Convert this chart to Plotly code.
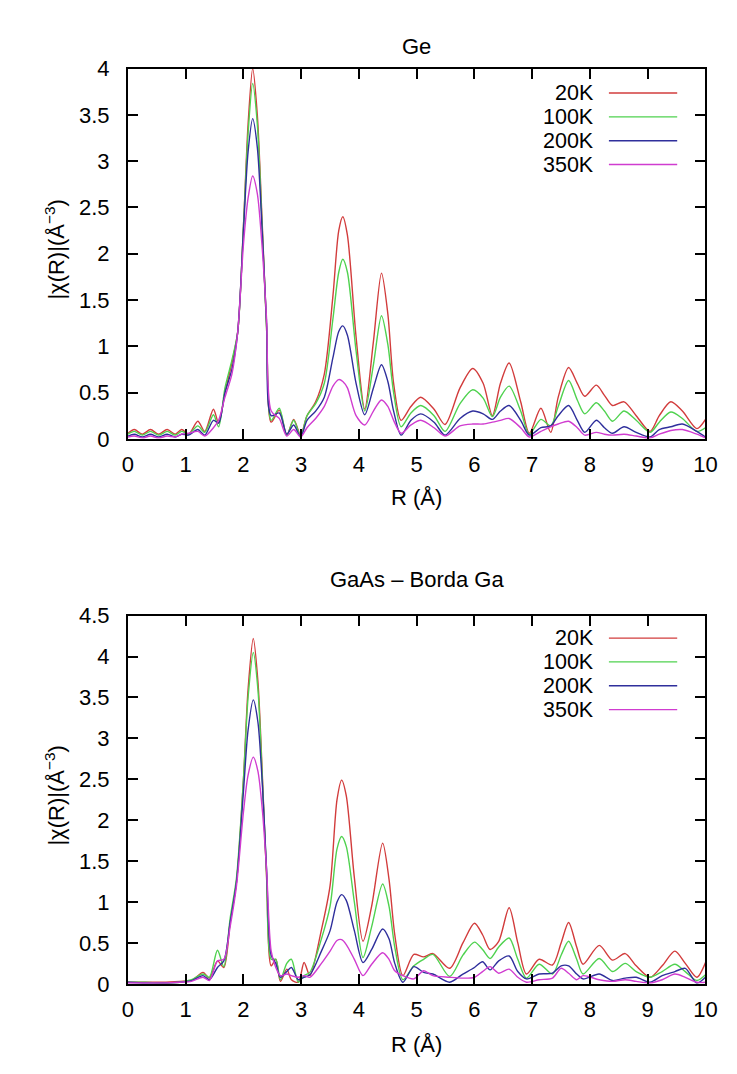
import plotly.graph_objects as go

W, H = 737, 1074

# ---------------- Ge ----------------
r_ge = [0.0, 0.11, 0.25, 0.39, 0.53, 0.68, 0.82, 0.93, 1.05, 1.21, 1.33, 1.48, 1.57, 1.68,
        1.8, 1.9, 2.0, 2.08, 2.16, 2.24, 2.32, 2.4, 2.48, 2.62, 2.75, 2.87, 2.99, 3.1, 3.25,
        3.4, 3.55, 3.65, 3.72, 3.8, 3.95, 4.1, 4.25, 4.39, 4.5, 4.6, 4.73, 4.9, 5.07, 5.3,
        5.49, 5.75, 5.97, 6.15, 6.31, 6.45, 6.6, 6.8, 6.95, 7.15, 7.32, 7.45, 7.63, 7.78,
        7.91, 8.11, 8.25, 8.39, 8.59, 8.8, 9.04, 9.2, 9.4, 9.6, 9.85, 10.0]

ge_20k = [0.06, 0.10, 0.05, 0.10, 0.05, 0.10, 0.05, 0.10, 0.05, 0.19, 0.08, 0.32, 0.17, 0.50,
          0.82, 1.15, 2.3, 3.4, 4.0, 3.5, 2.4, 1.2, 0.18, 0.31, 0.04, 0.21, 0.04, 0.25, 0.40,
          0.7, 1.55, 2.25, 2.4, 2.2, 1.1, 0.32, 1.05, 1.79, 1.35, 0.6, 0.20, 0.35, 0.45, 0.32,
          0.155, 0.55, 0.76, 0.6, 0.25, 0.6, 0.82, 0.4, 0.06, 0.33, 0.07, 0.45, 0.77, 0.6,
          0.46, 0.58, 0.47, 0.36, 0.40, 0.25, 0.08, 0.25, 0.40, 0.30, 0.11, 0.21]

ge_100k = [0.05, 0.08, 0.04, 0.08, 0.04, 0.08, 0.04, 0.08, 0.05, 0.14, 0.07, 0.26, 0.13, 0.55,
           0.85, 1.15, 2.3, 3.3, 3.84, 3.4, 2.35, 1.2, 0.2, 0.33, 0.04, 0.2, 0.03, 0.25, 0.38,
           0.6, 1.3, 1.8, 1.94, 1.8, 0.95, 0.30, 0.8, 1.33, 1.02, 0.5, 0.13, 0.28, 0.36, 0.25,
           0.08, 0.38, 0.53, 0.44, 0.24, 0.45, 0.57, 0.3, 0.05, 0.21, 0.14, 0.35, 0.63, 0.42,
           0.27, 0.39, 0.3, 0.19, 0.3, 0.2, 0.07, 0.18, 0.29, 0.22, 0.08, 0.12]

ge_200k = [0.03, 0.05, 0.02, 0.05, 0.02, 0.05, 0.02, 0.05, 0.04, 0.10, 0.04, 0.20, 0.17, 0.5,
           0.75, 1.15, 2.25, 3.1, 3.46, 3.15, 2.3, 1.25, 0.25, 0.28, 0.05, 0.15, 0.02, 0.2, 0.3,
           0.45, 0.88, 1.16, 1.22, 1.12, 0.6, 0.26, 0.55, 0.80, 0.62, 0.3, 0.04, 0.2, 0.27, 0.18,
           0.04, 0.22, 0.30, 0.27, 0.21, 0.3, 0.36, 0.2, 0.04, 0.12, 0.14, 0.25, 0.36, 0.2,
           0.07, 0.20, 0.12, 0.06, 0.13, 0.07, 0.02, 0.1, 0.13, 0.16, 0.08, 0.02]

ge_350k = [0.02, 0.03, 0.01, 0.03, 0.01, 0.03, 0.02, 0.05, 0.06, 0.08, 0.03, 0.12, 0.2, 0.45,
           0.7, 1.15, 2.1, 2.6, 2.84, 2.65, 2.1, 1.3, 0.3, 0.22, 0.03, 0.1, 0.02, 0.12, 0.22,
           0.35, 0.57, 0.64, 0.62, 0.55, 0.25, 0.15, 0.3, 0.42, 0.35, 0.2, 0.06, 0.15, 0.20, 0.12,
           0.03, 0.14, 0.16, 0.16, 0.18, 0.2, 0.22, 0.12, 0.02, 0.08, 0.13, 0.16, 0.19, 0.12,
           0.04, 0.07, 0.05, 0.04, 0.05, 0.03, 0.01, 0.05, 0.09, 0.1, 0.05, 0.01]

# ---------------- GaAs, Ga edge ----------------
r_gaas = [0.0, 0.3, 0.6, 0.9, 1.1, 1.3, 1.41, 1.55, 1.66, 1.77, 1.88, 2.0, 2.08, 2.17, 2.25,
          2.33, 2.4, 2.48, 2.56, 2.64, 2.75, 2.83, 2.95, 3.05, 3.15, 3.35, 3.5, 3.62, 3.7,
          3.78, 3.92, 4.07, 4.22, 4.41, 4.52, 4.62, 4.76, 4.95, 5.12, 5.28, 5.57, 5.8, 6.0,
          6.14, 6.27, 6.42, 6.6, 6.75, 6.9, 7.12, 7.35, 7.5, 7.63, 7.77, 7.88, 8.16, 8.39,
          8.61, 8.8, 9.04, 9.25, 9.47, 9.65, 9.85, 10.0]

gaas_20k = [0.02, 0.02, 0.02, 0.03, 0.04, 0.14, 0.07, 0.28, 0.2, 0.75, 1.25, 2.5, 3.6, 4.22, 3.7,
            2.5, 1.3, 0.22, 0.3, 0.03, 0.18, 0.05, 0.02, 0.26, 0.1, 0.66, 1.2, 2.25, 2.49,
            2.3, 1.3, 0.52, 0.95, 1.72, 1.28, 0.6, 0.10, 0.36, 0.33, 0.37, 0.19, 0.5, 0.74,
            0.6, 0.42, 0.52, 0.93, 0.5, 0.12, 0.30, 0.23, 0.5, 0.75, 0.45, 0.24, 0.47, 0.29,
            0.37, 0.22, 0.08, 0.22, 0.40, 0.25, 0.08, 0.26]

gaas_100k = [0.02, 0.02, 0.01, 0.02, 0.05, 0.12, 0.08, 0.41, 0.21, 0.8, 1.3, 2.5, 3.5, 4.05, 3.6,
             2.45, 1.35, 0.3, 0.3, 0.05, 0.25, 0.3, 0.02, 0.1, 0.14, 0.55, 0.95, 1.65, 1.80,
             1.68, 1.0, 0.32, 0.7, 1.22, 0.95, 0.45, 0.05, 0.22, 0.3, 0.36, 0.09, 0.35, 0.51,
             0.42, 0.31, 0.45, 0.56, 0.3, 0.07, 0.24, 0.12, 0.35, 0.52, 0.3, 0.12, 0.31, 0.15,
             0.25, 0.15, 0.08, 0.15, 0.24, 0.15, 0.04, 0.11]

gaas_200k = [0.02, 0.01, 0.01, 0.02, 0.04, 0.10, 0.05, 0.2, 0.28, 0.75, 1.25, 2.35, 3.1, 3.47, 3.2,
             2.4, 1.4, 0.35, 0.25, 0.08, 0.15, 0.2, 0.05, 0.08, 0.11, 0.4, 0.65, 1.0, 1.09,
             1.02, 0.65, 0.26, 0.42, 0.67, 0.55, 0.25, 0.02, 0.21, 0.14, 0.12, 0.02, 0.12, 0.2,
             0.27, 0.17, 0.28, 0.34, 0.15, 0.06, 0.12, 0.13, 0.22, 0.22, 0.12, 0.06, 0.12, 0.04,
             0.07, 0.08, 0.02, 0.1, 0.15, 0.19, 0.01, 0.08]

gaas_350k = [0.01, 0.01, 0.01, 0.02, 0.03, 0.08, 0.04, 0.28, 0.3, 0.7, 1.2, 2.1, 2.55, 2.77, 2.6,
             2.1, 1.4, 0.4, 0.2, 0.1, 0.12, 0.1, 0.08, 0.1, 0.08, 0.25, 0.4, 0.53, 0.54,
             0.48, 0.3, 0.10, 0.24, 0.38, 0.3, 0.16, 0.1, 0.06, 0.16, 0.1, 0.08, 0.07, 0.08,
             0.15, 0.21, 0.13, 0.18, 0.08, 0.02, 0.05, 0.07, 0.19, 0.13, 0.05, 0.1, 0.05, 0.03,
             0.05, 0.03, 0.01, 0.05, 0.12, 0.08, 0.02, 0.02]

series_names = ["20K", "100K", "200K", "350K"]
colors = ["#d23c3c", "#4fd24f", "#2f2f9c", "#d03cd0"]

# pixel geometry of each panel (frame top/bottom, title and x-label centres, key rows)
panels = [
    dict(title="Ge", r=r_ge, ys=[ge_20k, ge_100k, ge_200k, ge_350k],
         ymax=4.0, top=58, bottom=437, title_y=35, xlabel_y=497, key_y=83),
    dict(title="GaAs \u2013 Borda Ga", r=r_gaas, ys=[gaas_20k, gaas_100k, gaas_200k, gaas_350k],
         ymax=4.5, top=618, bottom=995, title_y=581, xlabel_y=1057, key_y=641),
]

LEFT, RIGHT = 125, 717
FONT = "Liberation Sans, Arial, Helvetica, sans-serif"
FS = 22
KEY_FS = 21.5


def px(x):
    return x / W


def py(y):
    return 1 - y / H


fig = go.Figure()
annotations = []
shapes = []

for i, p in enumerate(panels):
    n = "" if i == 0 else str(i + 1)
    xa, ya = "x" + n, "y" + n
    for name, col, vals in zip(series_names, colors, p["ys"]):
        fig.add_trace(go.Scatter(
            x=p["r"], y=vals, mode="lines", name=name, showlegend=False,
            line=dict(color=col, width=1.4, shape="spline", smoothing=0.8),
            xaxis=xa, yaxis=ya))

    axis_common = dict(showline=True, linecolor="black", linewidth=2, mirror="ticks",
                       ticks="inside", ticklen=10, tickwidth=1.5, tickcolor="black",
                       showgrid=False, zeroline=False, ticklabeloverflow="allow",
                       tickfont=dict(family=FONT, size=FS, color="black"))
    fig.update_layout(**{
        "xaxis" + n: dict(domain=[px(LEFT), px(RIGHT)], range=[0, 10], dtick=1, tick0=0,
                          anchor=ya, ticklabelstandoff=5, **axis_common),
        "yaxis" + n: dict(domain=[py(p["bottom"]), py(p["top"])], range=[0, p["ymax"]],
                          dtick=0.5, tick0=0, anchor=xa, ticklabelstandoff=12,
                          tickformat="~g", **axis_common),
    })

    # panel title
    annotations.append(dict(text=p["title"], x=px((LEFT + RIGHT) / 2), y=py(p["title_y"]),
                            xref="paper", yref="paper", xanchor="center", yanchor="middle",
                            showarrow=False, font=dict(family=FONT, size=FS, color="black")))
    # x-axis title
    annotations.append(dict(text="R (\u00c5)", x=px((LEFT + RIGHT) / 2), y=py(p["xlabel_y"]),
                            xref="paper", yref="paper", xanchor="center", yanchor="middle",
                            showarrow=False, font=dict(family=FONT, size=FS, color="black")))
    # y-axis title
    annotations.append(dict(text="|\u03c7(R)|(\u00c5<sup>\u22123</sup>)", x=px(50),
                            y=py((p["top"] + p["bottom"]) / 2 - 4), xref="paper", yref="paper",
                            xanchor="center", yanchor="middle",
                            showarrow=False, textangle=-90,
                            font=dict(family=FONT, size=FS, color="black")))

    # key: label text right-aligned, sample line on its right
    for k, (name, col) in enumerate(zip(series_names, colors)):
        yk = p["key_y"] + 24.4 * k
        annotations.append(dict(text=name, x=px(604), y=py(yk), xref="paper", yref="paper",
                                xanchor="right", yanchor="middle", showarrow=False,
                                borderpad=0,
                                font=dict(family=FONT, size=KEY_FS, color="black")))
        shapes.append(dict(type="line", xref="paper", yref="paper",
                           x0=px(618), x1=px(688), y0=py(yk), y1=py(yk),
                           line=dict(color=col, width=1.4)))

fig.update_layout(
    width=W, height=H,
    margin=dict(l=0, r=0, t=0, b=0),
    paper_bgcolor="white", plot_bgcolor="white",
    annotations=annotations, shapes=shapes,
    showlegend=False,
)

fig.write_html("out.html")
